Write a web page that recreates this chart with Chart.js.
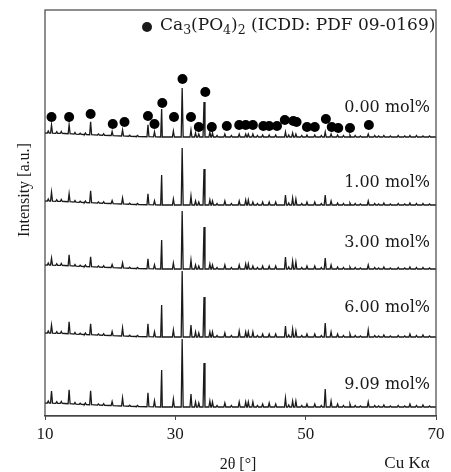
<!DOCTYPE html>
<html>
<head>
<meta charset="utf-8">
<script src="https://cdn.jsdelivr.net/npm/chart.js@4.4.0/dist/chart.umd.min.js"></script>
<style>
  html, body { margin: 0; padding: 0; background: #fff; }
  #wrap { width: 451px; height: 472px; }
</style>
</head>
<body>
<div id="wrap"><canvas id="xrd" width="451" height="472"></canvas></div>
<script>
"use strict";

// 2theta positions of the reflections (shared by all samples)
const peakPos = [11.0, 13.7, 17.0, 20.3, 21.9, 25.8, 26.8, 27.9, 29.7, 31.05, 32.4, 33.1, 33.6, 34.4, 35.3, 35.7,
    37.6, 39.8, 40.8, 41.2, 41.9, 43.4, 44.4, 45.4, 46.9, 48.0, 48.5, 50.2, 51.4, 53.0, 53.9, 54.9, 56.8, 59.6,
    62.0, 66.0, 68.0];

// peak heights per sample (same order as peakPos)
const h000 = [8, 9, 13, 4, 6, 12, 5, 28, 6, 49, 7, 4, 3, 35, 5, 4, 3, 3, 3, 3, 3, 2, 2, 2, 5, 4, 3, 2, 2, 5, 3, 2, 2, 3, 1.5, 1.5, 1];
const h100 = [9, 8, 12, 3, 6, 11, 4, 30, 6, 57, 9, 4, 3, 36, 5, 4, 4, 4, 5, 5, 3, 3, 3, 3, 10, 7, 6, 3, 3, 10, 4, 2, 2, 4, 2, 2, 1.5];
const h300 = [7, 11, 10, 3, 5, 10, 4, 29, 6, 58, 9, 4, 3, 42, 5, 4, 4, 4, 5, 5, 3, 3, 3, 3, 12, 8, 7, 3, 3, 11, 4, 2, 2, 4, 2, 2, 1.5];
const h600 = [8, 12, 11, 4, 8, 13, 5, 32, 7, 66, 12, 5, 4, 40, 5, 5, 4, 6, 5, 5, 5, 3, 3, 3, 11, 8, 6, 3, 3, 14, 5, 3, 3, 7, 2, 3, 2];
const h909 = [12, 14, 14, 4, 8, 14, 6, 37, 8, 68, 13, 5, 4, 44, 6, 5, 4, 5, 5, 5, 5, 3, 4, 3, 9, 6, 6, 3, 3, 18, 6, 3, 3, 5, 2, 3, 2];

// small background wiggles seen in every pattern
const minorPos = [10.5, 11.8, 12.5, 14.6, 15.4, 16.2, 18.2, 19.0, 23.0, 24.2, 36.4, 38.6, 42.6, 47.4, 49.4, 52.4,
    55.8, 57.6, 58.4, 60.6, 61.2, 63.0, 64.2, 65.2, 67.0, 69.0];
const minorH = [2, 1.5, 2, 1.5, 1, 1.5, 1, 1.5, 1, 1, 1.5, 1.5, 1.5, 2, 1.5, 1.5,
    1.5, 1.5, 1, 1.5, 1, 1, 1.5, 1, 1.5, 1];

// vertical offset of each pattern (stacked plot)
const sampleLabels = ["0.00 mol%", "1.00 mol%", "3.00 mol%", "6.00 mol%", "9.09 mol%"];
const offsets = [279, 211, 147, 79, 9];

// low angle background hump
const bgKnots = [[10, 4], [13, 3.5], [16, 2.5], [20, 1.5], [24, 0.5], [28, 0], [70, 0]];

// Ca3(PO4)2 reference markers above the 0.00 mol% pattern
const markX = [11.0, 13.7, 17.0, 20.4, 22.2, 25.8, 26.8, 28.0, 29.8, 31.1, 32.4, 33.6, 34.6, 35.6, 37.9, 39.8,
    40.8, 41.9, 43.5, 44.4, 45.6, 46.8, 48.1, 48.6, 50.2, 51.4, 53.1, 54.0, 55.0, 56.8, 59.7];
const markY = [299, 299, 302, 292, 294, 300, 292, 313, 299, 337, 299, 289, 324, 289, 290, 291,
    291, 291, 290, 290, 290, 296, 295, 294, 289, 289, 297, 289, 288, 288, 291];

const xTicks = [10, 30, 50, 70];

const halfWidth = 0.15;

function bgAt(x) {
    for (let i = 1; i < bgKnots.length; i++) {
        if (x <= bgKnots[i][0]) {
            let [x0, y0] = bgKnots[i - 1];
            let [x1, y1] = bgKnots[i];
            return y0 + (y1 - y0) * (x - x0) / (x1 - x0);
        }
    }
    return 0;
}

function addPeak(pts, p, h, offset) {
    let b = bgAt(p);
    pts.push({x: p - halfWidth, y: offset + b});
    pts.push({x: p, y: offset + b + h});
    pts.push({x: p + halfWidth, y: offset + b});
}

function buildTrace(heights, offset) {
    let pts = bgKnots.map(k => ({x: k[0], y: offset + k[1]}));
    peakPos.forEach((p, i) => addPeak(pts, p, heights[i], offset));
    minorPos.forEach((p, i) => addPeak(pts, p, minorH[i], offset));
    pts.sort((a, b) => a.x - b.x);
    return pts;
}

const allHeights = [h000, h100, h300, h600, h909];
const ink = "#1a1a1a";

let datasets = allHeights.map((h, i) => ({
    type: "line",
    label: sampleLabels[i],
    data: buildTrace(h, offsets[i]),
    borderColor: ink,
    borderWidth: 1.3,
    pointRadius: 0,
    tension: 0,
    order: 2
}));

datasets.push({
    type: "scatter",
    label: "Ca3(PO4)2",
    data: markX.map((x, i) => ({x: x, y: markY[i]})),
    backgroundColor: "#000",
    borderWidth: 0,
    pointRadius: 5,
    order: 1
});

// frame, labels and titles
const decorPlugin = {
    id: "decor",
    afterDraw(chart) {
        let ctx = chart.ctx;
        let a = chart.chartArea;
        ctx.save();
        ctx.strokeStyle = "#444";
        ctx.lineWidth = 1.2;
        ctx.strokeRect(a.left, a.top, a.right - a.left, a.bottom - a.top);

        ctx.fillStyle = ink;
        ctx.textBaseline = "middle";

        // sample labels
        ctx.font = "16px 'DejaVu Serif'";
        ctx.textAlign = "right";
        let labelY = [108, 183, 243, 308, 385];
        sampleLabels.forEach((s, i) => ctx.fillText(s, 430, labelY[i]));

        // legend with subscripts
        ctx.beginPath();
        ctx.arc(147, 27, 5, 0, Math.PI * 2);
        ctx.fill();
        ctx.textAlign = "left";
        let parts = [["Ca", 0], ["3", 1], ["(PO", 0], ["4", 1], [")", 0], ["2", 1], [" (ICDD: PDF 09-0169)", 0]];
        let x = 160;
        parts.forEach(([t, sub]) => {
            ctx.font = sub ? "12.5px 'DejaVu Serif'" : "17px 'DejaVu Serif'";
            ctx.fillText(t, x, sub ? 31 : 26);
            x += ctx.measureText(t).width;
        });

        // axis titles
        ctx.font = "16px 'Liberation Serif'";
        ctx.textAlign = "center";
        ctx.fillText("2θ [°]", 238, 465);
        ctx.font = "17px 'Liberation Serif'";
        ctx.fillText("Cu Kα", 407, 464);

        ctx.translate(25, 190);
        ctx.rotate(-Math.PI / 2);
        ctx.font = "16px 'Liberation Serif'";
        ctx.fillText("Intensity [a.u.]", 0, 0);
        ctx.restore();
    }
};

let chart = new Chart(document.getElementById("xrd").getContext("2d"), {
    data: {datasets: datasets},
    options: {
        responsive: false,
        animation: false,
        layout: {padding: {left: 45, right: 15, top: 10, bottom: 0}},
        plugins: {legend: {display: false}, tooltip: {enabled: false}},
        scales: {
            x: {
                type: "linear",
                min: 10,
                max: 70,
                afterBuildTicks: s => { s.ticks = xTicks.map(v => ({value: v})); },
                afterFit: s => { s.height = 56; },
                grid: {drawOnChartArea: false, tickLength: 4, color: "#444"},
                border: {color: "#444", width: 1.2},
                ticks: {color: ink, padding: 4, font: {family: "Liberation Serif", size: 17}, maxRotation: 0}
            },
            y: {
                display: false,
                min: 0,
                max: 406
            }
        }
    },
    plugins: [decorPlugin]
});
</script>
</body>
</html>
